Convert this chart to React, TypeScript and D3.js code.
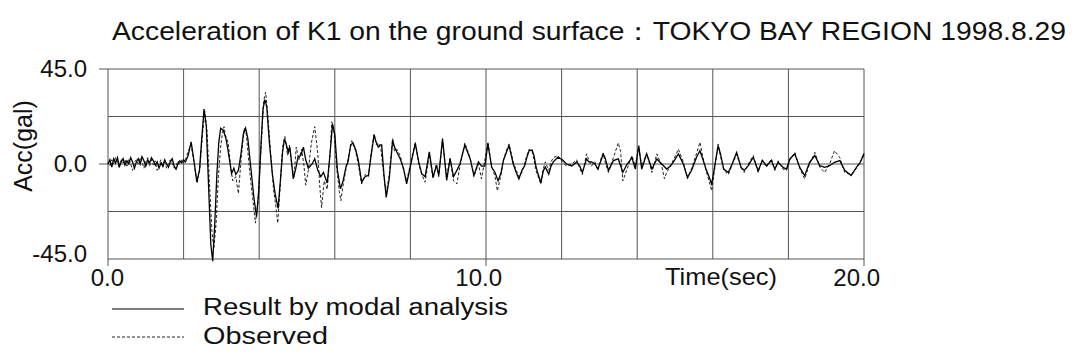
import React from "react";
import * as d3 from "d3";

const TITLE = "Acceleration of K1 on the ground surface\uFF1ATOKYO BAY REGION 1998.8.29";
const Y_TITLE = "Acc(gal)";
const X_TITLE = "Time(sec)";
const LEGEND = ["Result by modal analysis", "Observed"];

const X_GRID = [0, 2, 4, 6, 8, 10, 12, 14, 16, 18, 20];
const X_TICK_VALUES = [0, 10, 20];
const X_TICK_LABELS = ["0.0", "10.0", "20.0"];
const Y_GRID = [-45, -22.5, 0, 22.5, 45];
const Y_TICK_VALUES = [45, 0, -45];
const Y_TICK_LABELS = ["45.0", "0.0", "-45.0"];

// [time (s), acceleration (gal)]
const MODAL: [number, number][] = [
  [0,0],[0.05,2],[0.1,-1.5],[0.15,2.5],[0.2,0.5],[0.25,3],[0.3,-1],[0.35,1],[0.4,2.5],[0.45,-0.5],
  [0.5,1.5],[0.55,0],[0.6,3],[0.65,1],[0.7,-2],[0.75,1],[0.8,2.5],[0.85,0],[0.9,3.5],[0.95,1.5],
  [1.0,-1],[1.05,2],[1.1,0.5],[1.15,3],[1.2,1.5],[1.25,-0.5],[1.3,1],[1.35,-2],[1.4,0.5],[1.45,-1],
  [1.5,2],[1.55,0],[1.6,-1.5],[1.65,1],[1.7,2.5],[1.75,-1],[1.8,-2.5],[1.85,0],[1.9,1.5],[1.95,0.5],
  [2.0,2],[2.05,1],[2.12,4],[2.2,10.5],[2.27,2],[2.35,-8.5],[2.42,-3],[2.48,12],[2.54,26],[2.6,18],
  [2.66,-10],[2.72,-38],[2.77,-46],[2.82,-30],[2.88,-5],[2.93,10],[2.98,17],[3.05,16],[3.12,12],
  [3.18,6],[3.27,-4.5],[3.33,-2],[3.38,-5],[3.45,-3],[3.52,5],[3.58,14],[3.64,17],[3.7,12],[3.78,-2],
  [3.86,-16],[3.93,-25],[3.99,-12],[4.05,10],[4.1,26],[4.15,30.5],[4.2,27],[4.27,10],[4.35,-5],[4.42,-14],
  [4.5,-21],[4.56,-8],[4.62,6],[4.67,12],[4.72,9],[4.77,5.5],[4.81,8],[4.85,2],[4.9,-7],[4.97,-2],
  [5.03,3.5],[5.1,4],[5.17,8],[5.23,2],[5.3,-2],[5.4,0],[5.47,2.5],[5.55,-3],[5.63,-6],[5.7,-4],
  [5.8,-9],[5.87,4],[5.94,19],[6.0,14],[6.07,-3],[6.15,-11.8],[6.22,-8],[6.3,-1],[6.35,1],[6.42,9],
  [6.48,10],[6.55,7],[6.62,2],[6.71,-8.6],[6.8,-6],[6.89,-5.4],[6.96,4],[7.04,13.7],[7.1,10],[7.15,8],
  [7.2,9],[7.24,9],[7.3,-5],[7.36,-15.8],[7.44,-7],[7.5,5],[7.53,11.3],[7.58,8],[7.64,5.7],[7.73,2.5],
  [7.82,-2.2],[7.9,-9.4],[7.99,-2],[8.06,4],[8.13,9.7],[8.22,1],[8.3,-4.6],[8.39,-6],[8.5,5.7],[8.6,-6.2],
  [8.69,-0.6],[8.75,-5.4],[8.85,12],[8.96,-7.8],[9.05,2.5],[9.14,-6],[9.23,-3],[9.31,0],[9.44,9],[9.58,2.5],
  [9.68,-5.4],[9.8,1],[9.88,-1],[9.97,-1],[10.05,9.5],[10.15,-1.6],[10.24,-4],[10.32,-8],[10.4,-4],[10.46,1.6],
  [10.55,6],[10.61,8.7],[10.67,4],[10.72,0],[10.8,-4],[10.87,-7.1],[10.95,-3],[11.02,-1],[11.08,3],[11.14,6.3],
  [11.22,6.6],[11.27,4],[11.32,-1],[11.38,-5],[11.45,-8.7],[11.52,-3],[11.57,-1.5],[11.66,-4.8],[11.72,-1],[11.78,1],
  [11.9,3.2],[12.02,2],[12.13,0],[12.27,-1],[12.4,1],[12.48,-1],[12.55,-4],[12.66,2.4],[12.72,1],[12.79,1],
  [12.88,0],[12.96,-2.4],[13.05,2],[13.1,4.8],[13.15,3],[13.24,-3],[13.37,1.6],[13.5,2.4],[13.62,-4],[13.72,-0.5],
  [13.86,3],[13.95,-2.4],[14.04,8.7],[14.12,-2.4],[14.25,4.8],[14.39,-2.4],[14.52,2.4],[14.65,0],[14.78,-2.4],[14.88,-1],
  [14.96,1],[15.09,4.8],[15.22,0],[15.33,-6.3],[15.44,-3],[15.57,3.2],[15.66,6.3],[15.74,2],[15.82,-2.4],[15.9,-6],
  [15.97,-9.5],[16.06,0],[16.14,8.7],[16.2,5],[16.29,-2.4],[16.41,-4],[16.5,-0.5],[16.63,5.5],[16.75,-1.6],[16.83,-3],
  [16.94,-0.8],[17.07,3.2],[17.2,-3.2],[17.31,1.6],[17.42,-0.8],[17.55,1.6],[17.64,-2.4],[17.73,0.8],[17.86,-1.6],[17.95,-2.4],
  [18.04,2.4],[18.17,4.8],[18.3,-1.6],[18.43,-5.5],[18.56,0.8],[18.7,4],[18.83,-0.8],[18.96,-1.6],[19.09,-0.8],[19.22,0.8],
  [19.36,1.6],[19.49,-3],[19.66,-5.5],[19.8,-1.6],[19.9,0.8],[20.0,5],
];

const OBSERVED: [number, number][] = [
  [0,1],[0.05,-1],[0.1,2],[0.15,0],[0.2,3],[0.25,1],[0.3,-2],[0.35,2],[0.4,0.5],[0.45,2],
  [0.5,-1],[0.55,2.5],[0.6,0],[0.65,-3],[0.7,1],[0.75,2],[0.8,0],[0.85,3],[0.9,1],[0.95,-2],
  [1.0,1],[1.05,3],[1.1,-1],[1.15,2],[1.2,-0.5],[1.25,1.5],[1.3,-3],[1.35,0],[1.4,2],[1.45,-1.5],
  [1.5,1],[1.55,-2],[1.6,0.5],[1.65,2],[1.7,0],[1.75,-2],[1.8,-1],[1.85,1.5],[1.9,0],[1.95,2],
  [2.0,0.5],[2.05,2],[2.12,6],[2.2,9],[2.28,0],[2.36,-9],[2.43,-2],[2.5,14],[2.56,25],[2.62,16],
  [2.68,-8],[2.75,-32],[2.8,-40],[2.86,-28],[2.92,-6],[2.98,8],[3.03,15],[3.07,17.7],
  [3.1,14],[3.18,10],[3.25,-2],[3.3,-8],[3.38,-6],[3.45,-14],[3.52,2],[3.6,17],[3.66,14],[3.74,-2],
  [3.82,-15],[3.9,-28],[3.97,-18],[4.05,8],[4.12,30],[4.17,34],[4.22,25],[4.3,6],[4.38,-12],[4.44,-20],
  [4.49,-28],[4.55,-12],[4.62,8],[4.68,13],[4.75,4],[4.8,9],[4.86,-1],[4.92,-6],[4.98,8],[5.05,2],
  [5.12,7],[5.18,0],[5.23,-10],[5.3,-3],[5.38,10],[5.47,17.7],[5.55,5],[5.6,-10],[5.65,-20.6],[5.72,-8],
  [5.8,-12],[5.88,6],[5.92,20],[5.98,15],[6.05,-2],[6.12,-13],[6.16,-17.4],[6.22,-10],[6.3,-2],[6.38,5],
  [6.45,11],[6.55,6],[6.62,0],[6.71,-9.5],[6.8,-5],[6.89,-6],[6.96,5],[7.04,14.5],[7.1,9],[7.15,10],
  [7.22,7],[7.3,-6],[7.36,-14],[7.44,-5],[7.53,12],[7.58,6],[7.64,7],[7.73,4],[7.82,-3],[7.9,-8],
  [7.99,-1],[8.06,5],[8.13,10.5],[8.22,0],[8.3,-5],[8.39,-8.6],[8.5,4.5],[8.6,-7],[8.69,0],[8.75,-6],
  [8.85,11],[8.96,-6],[9.05,3],[9.14,-8],[9.23,-9.4],[9.31,-1],[9.44,10],[9.58,3],[9.68,-6],[9.8,0],
  [9.88,-7],[9.97,2],[10.05,10.5],[10.15,-1],[10.24,-6],[10.3,-12.7],[10.4,-5],[10.46,2],[10.55,7],[10.61,9.5],
  [10.67,5],[10.72,1],[10.8,-3],[10.87,-6],[10.95,-4],[11.02,0],[11.08,4],[11.14,7],[11.22,6],[11.27,2],
  [11.32,-3],[11.38,-6],[11.45,-9.5],[11.52,-2],[11.57,1],[11.66,-3],[11.72,1],[11.78,3],[11.9,4],[12.02,1],
  [12.13,-1],[12.27,0],[12.4,2],[12.48,-2],[12.55,-5],[12.66,4.8],[12.72,2],[12.79,-1],[12.88,1],[12.96,-3],
  [13.05,3],[13.1,5],[13.15,1],[13.24,-4],[13.37,3],[13.5,10],[13.56,6],[13.62,-8],[13.72,-3],[13.86,4],
  [13.95,-1],[14.04,8],[14.12,-1],[14.25,5],[14.39,-4],[14.52,4.8],[14.65,-1],[14.72,-7],[14.78,-4],[14.96,2],
  [15.09,7],[15.22,1],[15.33,-7],[15.44,-2],[15.57,5],[15.66,10.3],[15.74,3],[15.82,-3],[15.9,-8],[15.97,-12.7],
  [16.06,-1],[16.14,9.5],[16.2,4],[16.29,-3],[16.41,-5],[16.5,-1],[16.63,4.5],[16.75,-2],[16.83,-4],[16.94,0],
  [17.07,4],[17.2,-4],[17.31,2],[17.42,-1.5],[17.55,2.5],[17.64,-3],[17.73,1.5],[17.86,-2.5],[17.95,-3],[18.04,2],
  [18.17,5.5],[18.3,-2],[18.43,-7],[18.56,0],[18.7,5.5],[18.83,-1.5],[18.96,-4],[19.09,0],[19.22,6.3],[19.36,3],
  [19.49,-4],[19.66,-5],[19.8,-2],[19.9,1],[20.0,4],
];

const W = 1074;
const H = 358;
const M = { left: 108, right: 864, top: 69, bottom: 259 };
const FONT = "'Liberation Sans', Arial, sans-serif";
const GRID = "#555";

export default function App() {
  const x = d3.scaleLinear().domain([0, 20]).range([M.left, M.right]);
  const y = d3.scaleLinear().domain([-45, 45]).range([M.bottom, M.top]);
  const line = d3
    .line<[number, number]>()
    .x((d) => x(d[0]))
    .y((d) => y(d[1]));

  return (
    <svg
      width={W}
      height={H}
      style={{ position: "absolute", left: 0, top: 0, background: "#fff" }}
      fontFamily={FONT}
    >
      <rect x={0} y={0} width={W} height={H} fill="#fff" />
      <text x={112} y={40} fontSize={25} fill="#111" textLength={954} lengthAdjust="spacingAndGlyphs">
        {TITLE}
      </text>

      {/* grid */}
      {X_GRID.map((t) => (
        <line key={"vx" + t} x1={x(t)} x2={x(t)} y1={M.top} y2={M.bottom} stroke={GRID} strokeWidth={1} />
      ))}
      {Y_GRID.map((v) => (
        <line key={"hy" + v} x1={M.left} x2={M.right} y1={y(v)} y2={y(v)} stroke={GRID} strokeWidth={1} />
      ))}

      {/* ticks */}
      {Y_TICK_VALUES.filter((v) => v !== -45).map((v) => (
        <line key={"yt" + v} x1={M.left - 9} x2={M.left} y1={y(v)} y2={y(v)} stroke={GRID} strokeWidth={1} />
      ))}
      {X_TICK_VALUES.map((t) => (
        <line key={"xt" + t} x1={x(t)} x2={x(t)} y1={M.bottom} y2={M.bottom + 7} stroke={GRID} strokeWidth={1} />
      ))}

      {/* tick labels */}
      {Y_TICK_VALUES.map((v, i) => (
        <text
          key={"yl" + v}
          x={M.left - 21}
          y={y(v) + (v === -45 ? 3 : 8)}
          fontSize={24}
          textAnchor="end"
          fill="#111"
        >
          {Y_TICK_LABELS[i]}
        </text>
      ))}
      {X_TICK_VALUES.map((t, i) => (
        <text key={"xl" + t} x={x(t) + 16} y={286} fontSize={24} textAnchor="end" fill="#111">
          {X_TICK_LABELS[i]}
        </text>
      ))}
      <text x={665} y={285} fontSize={24} fill="#111" textLength={112} lengthAdjust="spacingAndGlyphs">
        {X_TITLE}
      </text>
      <text
        transform={`translate(32, 146) rotate(-90)`}
        fontSize={25}
        textAnchor="middle"
        fill="#111"
      >
        {Y_TITLE}
      </text>

      {/* series */}
      <path d={line(OBSERVED) || ""} fill="none" stroke="#222" strokeWidth={1} strokeDasharray="3,2" />
      <path d={line(MODAL) || ""} fill="none" stroke="#000" strokeWidth={1.3} />

      {/* legend */}
      <line x1={112} x2={184} y1={309} y2={309} stroke="#000" strokeWidth={1} />
      <text x={203} y={315} fontSize={23} fill="#111" textLength={305} lengthAdjust="spacingAndGlyphs">
        {LEGEND[0]}
      </text>
      <line x1={112} x2={184} y1={337} y2={337} stroke="#222" strokeWidth={1} strokeDasharray="3,2" />
      <text x={203} y={344} fontSize={23} fill="#111" textLength={125} lengthAdjust="spacingAndGlyphs">
        {LEGEND[1]}
      </text>
    </svg>
  );
}
